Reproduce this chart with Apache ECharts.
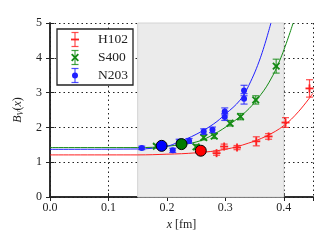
<!DOCTYPE html>
<html><head><meta charset="utf-8">
<script src="https://cdn.jsdelivr.net/npm/echarts@6/dist/echarts.min.js"></script>
<style>html,body{margin:0;padding:0;background:#fff}#c{width:332px;height:249px}</style>
</head><body><div id="c"></div>
<script>
// Data points [x, y, err]
const h102 = [[0.285,1.26,0.06],[0.298,1.45,0.07],[0.320,1.42,0.06],[0.353,1.60,0.13],[0.374,1.74,0.08],[0.403,2.14,0.14],[0.444,3.12,0.25]];
const s400 = [[0.182,1.46,0.05],[0.250,1.44,0.07],[0.263,1.71,0.07],[0.281,1.75,0.07],[0.308,2.12,0.08],[0.326,2.31,0.09],[0.352,2.79,0.12],[0.387,3.76,0.2]];
const n203 = [[0.157,1.41,0.05],[0.210,1.34,0.06],[0.221,1.59,0.07],[0.238,1.61,0.07],[0.263,1.88,0.08],[0.278,1.93,0.08],[0.299,2.30,0.1],[0.299,2.46,0.1],[0.332,2.82,0.15],[0.332,3.06,0.15]];
// Reference (large) points
const refH102 = [[0.258,1.33]];
const refS400 = [[0.225,1.52]];
const refN203 = [[0.191,1.47]];
// Fit curves
const fitH102 = [[0,1.21],[0.15,1.21],[0.2,1.23],[0.25,1.27],[0.3,1.37],[0.34,1.55],[0.37,1.75],[0.4,2.05],[0.425,2.45],[0.45,2.98]];
const fitS400 = [[0,1.42],[0.15,1.42],[0.2,1.46],[0.25,1.58],[0.28,1.8],[0.31,2.12],[0.335,2.45],[0.355,2.82],[0.375,3.3],[0.395,4.0],[0.416,5.0]];
const fitN203 = [[0,1.37],[0.15,1.38],[0.2,1.46],[0.22,1.58],[0.25,1.8],[0.28,2.1],[0.3,2.38],[0.325,2.78],[0.34,3.2],[0.36,4.0],[0.378,5.0]];
const xTicks = [0.0,0.1,0.2,0.3,0.4];
const yTicks = [0,1,2,3,4,5];
const band = [0.15,0.40];
const names = ['H102','S400','N203'];

const RED='#ff2020', GREEN='#138a13', BLUE='#2020ff';
const FONT='Liberation Serif';

function errItem(kind,color){
  return function(params,api){
    const x=api.value(0),y=api.value(1),e=api.value(2);
    const p=api.coord([x,y]),lo=api.coord([x,y-e]),hi=api.coord([x,y+e]);
    const cw=3.5, st={stroke:color,lineWidth:1.2,opacity:0.8};
    const ch=[
      {type:'line',shape:{x1:p[0],y1:lo[1],x2:p[0],y2:hi[1]},style:st},
      {type:'line',shape:{x1:p[0]-cw,y1:lo[1],x2:p[0]+cw,y2:lo[1]},style:st},
      {type:'line',shape:{x1:p[0]-cw,y1:hi[1],x2:p[0]+cw,y2:hi[1]},style:st}
    ];
    const ms={stroke:color,lineWidth:1.8};
    if(kind==='plus'){
      ch.push({type:'line',shape:{x1:p[0]-4,y1:p[1],x2:p[0]+4,y2:p[1]},style:ms});
      ch.push({type:'line',shape:{x1:p[0],y1:p[1]-4,x2:p[0],y2:p[1]+4},style:ms});
    }else if(kind==='x'){
      ch.push({type:'line',shape:{x1:p[0]-3.3,y1:p[1]-3.3,x2:p[0]+3.3,y2:p[1]+3.3},style:ms});
      ch.push({type:'line',shape:{x1:p[0]-3.3,y1:p[1]+3.3,x2:p[0]+3.3,y2:p[1]-3.3},style:ms});
    }else{
      ch.push({type:'circle',shape:{cx:p[0],cy:p[1],r:3},style:{fill:color}});
    }
    return {type:'group',children:ch};
  };
}

const chart=echarts.init(document.getElementById('c'),null,{renderer:'canvas'});
const axLine={show:true,lineStyle:{color:'#222',width:1.5}};
const tick={show:true,inside:true,length:4,lineStyle:{color:'#222',width:1}};
const split={show:true,lineStyle:{type:[1.5,3],color:'#222',width:1}};
const lbl={fontFamily:FONT,fontSize:12,color:'#222'};

function legendGraphic(){
  const g=[{type:'rect',shape:{x:57,y:29,width:76,height:56},style:{fill:'#fff',stroke:'#222',lineWidth:1.3},z:100}];
  const rows=[39.5,57.5,75.5], cols=[RED,GREEN,BLUE], kinds=['plus','x','dot'];
  rows.forEach((ry,i)=>{
    const c=cols[i], cx=75, st={stroke:c,lineWidth:1.2,opacity:0.8};
    g.push({type:'line',shape:{x1:cx,y1:ry-7,x2:cx,y2:ry+7},style:st,z:101});
    g.push({type:'line',shape:{x1:cx-3.5,y1:ry-7,x2:cx+3.5,y2:ry-7},style:st,z:101});
    g.push({type:'line',shape:{x1:cx-3.5,y1:ry+7,x2:cx+3.5,y2:ry+7},style:st,z:101});
    const ms={stroke:c,lineWidth:1.8};
    if(kinds[i]==='plus'){
      g.push({type:'line',shape:{x1:cx-4,y1:ry,x2:cx+4,y2:ry},style:ms,z:101});
    }else if(kinds[i]==='x'){
      g.push({type:'line',shape:{x1:cx-3.3,y1:ry-3.3,x2:cx+3.3,y2:ry+3.3},style:ms,z:101});
      g.push({type:'line',shape:{x1:cx-3.3,y1:ry+3.3,x2:cx+3.3,y2:ry-3.3},style:ms,z:101});
    }else{
      g.push({type:'circle',shape:{cx:cx,cy:ry,r:3},style:{fill:c},z:101});
    }
    g.push({type:'text',left:98,top:ry-7.5,style:{text:names[i],font:'13.5px '+FONT,fill:'#222'},z:101});
  });
  return g;
}

chart.setOption({
  animation:false,
  backgroundColor:'#fff',
  grid:{left:50,right:19,top:23,bottom:52},
  xAxis:[{
    type:'value',min:0,max:0.45,interval:0.1,
    axisLine:axLine,axisTick:tick,splitLine:split,
    axisLabel:Object.assign({},lbl,{margin:5,showMaxLabel:false,formatter:v=>xTicks.some(t=>Math.abs(t-v)<1e-9)?v.toFixed(1):''}),
    name:'{i|x} [fm]',nameLocation:'middle',nameGap:19,
    nameTextStyle:{fontFamily:FONT,fontSize:12,color:'#222',rich:{i:{fontFamily:FONT,fontStyle:'italic',fontSize:12,color:'#222'}}}
  },{
    type:'value',position:'top',min:0,max:0.45,interval:0.1,
    axisLine:axLine,axisTick:tick,splitLine:{show:false},axisLabel:{show:false}
  }],
  yAxis:[{
    type:'value',min:0,max:5,interval:1,
    axisLine:axLine,axisTick:tick,splitLine:split,
    axisLabel:Object.assign({},lbl,{margin:8,formatter:v=>yTicks.includes(v)?String(v):''}),
    name:'{i|B}{s|V}{n|(}{i|x}{n|)}',nameLocation:'middle',nameGap:21,nameRotate:90,
    nameTextStyle:{fontFamily:FONT,fontSize:12,color:'#222',rich:{
      i:{fontFamily:FONT,fontStyle:'italic',fontSize:12,color:'#222'},
      s:{fontFamily:FONT,fontStyle:'italic',fontSize:8,color:'#222',verticalAlign:'bottom',padding:[6,0,0,0]},
      n:{fontFamily:FONT,fontSize:12,color:'#222'}}}
  },{
    type:'value',position:'right',min:0,max:5,interval:1,
    axisLine:axLine,axisTick:tick,splitLine:{show:false},axisLabel:{show:false}
  }],
  series:[
    {type:'line',data:[],markArea:{silent:true,itemStyle:{color:'#ebebeb',borderColor:'#d4d4d4',borderWidth:1},data:[[{xAxis:band[0]},{xAxis:band[1]}]]},z:0},
    {type:'line',data:fitH102,smooth:0.4,showSymbol:false,lineStyle:{color:RED,width:1},z:2},
    {type:'line',data:fitS400,smooth:0.4,showSymbol:false,lineStyle:{color:GREEN,width:1},z:2},
    {type:'line',data:fitN203,smooth:0.4,showSymbol:false,lineStyle:{color:BLUE,width:1},z:2},
    {type:'custom',data:h102,renderItem:errItem('plus',RED),encode:{x:0,y:1},z:3},
    {type:'custom',data:s400,renderItem:errItem('x',GREEN),encode:{x:0,y:1},z:3},
    {type:'custom',data:n203,renderItem:errItem('dot',BLUE),encode:{x:0,y:1},z:3},
    {type:'scatter',data:refH102,symbolSize:11,itemStyle:{color:'#ff0000',borderColor:'#000',borderWidth:1,opacity:1},z:5},
    {type:'scatter',data:refS400,symbolSize:11,itemStyle:{color:'#007a00',borderColor:'#000',borderWidth:1,opacity:1},z:5},
    {type:'scatter',data:refN203,symbolSize:11,itemStyle:{color:'#0000ff',borderColor:'#000',borderWidth:1,opacity:1},z:5}
  ],
  graphic:legendGraphic()
});
</script></body></html>
